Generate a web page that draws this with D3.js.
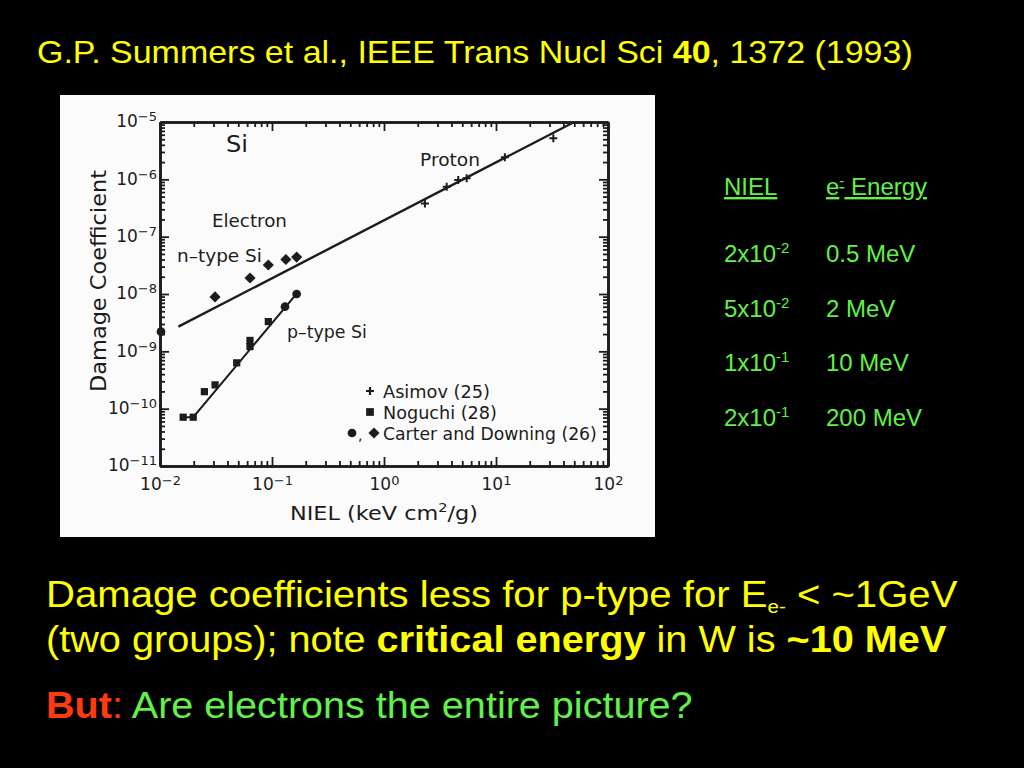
<!DOCTYPE html>
<html>
<head>
<meta charset="utf-8">
<script src="https://cdn.jsdelivr.net/npm/d3@7"></script>
<style>
  html, body { margin: 0; padding: 0; background: #000; }
  svg { display: block; }
</style>
</head>
<body>
<svg id="chart" width="1024" height="768"></svg>
<script>
// ---------------- DATA ----------------
// Electron, n-type Si (Carter and Downing, diamonds)
const nTypeNiel   = [0.031, 0.0637, 0.0927, 0.133, 0.166];
const nTypeDamage = [8.9e-9, 1.9e-8, 3.2e-8, 4.0e-8, 4.4e-8];
// Electron, p-type Si (Noguchi, squares)
const pTypeNiel   = [0.0161, 0.0198, 0.0249, 0.031, 0.0484, 0.0636, 0.0636, 0.0927];
const pTypeDamage = [7.1e-11, 7.1e-11, 1.98e-10, 2.6e-10, 6.3e-10, 1.21e-9, 1.55e-9, 3.3e-9];
// Electron, p-type Si (Carter and Downing, circles)
const pCircleNiel   = [0.0102, 0.1306, 0.166];
const pCircleDamage = [2.2e-9, 6.0e-9, 1.0e-8];
// Proton (Asimov, crosses)
const protonNiel   = [2.32, 3.63, 4.6, 5.47, 12.0, 32.5];
const protonDamage = [3.8e-7, 7.4e-7, 9.7e-7, 1.04e-6, 2.42e-6, 5.2e-6];
// Fit lines
const nLineNiel   = [0.0146, 50];
const nLineDamage = [2.7e-9, 1.0e-5];
const pLineNiel   = [0.0155, 0.0198, 0.172];
const pLineDamage = [7.1e-11, 7.1e-11, 1.1e-8];
// Axis ticks
const xTickValues = [1e-2, 1e-1, 1e0, 1e1, 1e2];
const xTickExps   = ["-2", "-1", "0", "1", "2"];
const yTickValues = [1e-11, 1e-10, 1e-9, 1e-8, 1e-7, 1e-6, 1e-5];
const yTickExps   = ["-11", "-10", "-9", "-8", "-7", "-6", "-5"];
const legendLabels = ["Asimov (25)", "Noguchi (28)", "Carter and Downing (26)"];
// Table on the right
const tableHeaders  = ["NIEL", "Energy"];
const tableNielBase = ["2x10", "5x10", "1x10", "2x10"];
const tableNielExp  = ["-2", "-2", "-1", "-1"];
const tableEnergy   = ["0.5 MeV", "2 MeV", "10 MeV", "200 MeV"];

// ---------------- DRAW ----------------
const svg = d3.select("#chart");
const YEL = "#ffff00", GRN = "#62f04a", RED = "#ff3a10", INK = "#1c1c1c";
const SLIDE_FONT = "'Liberation Sans', Arial, sans-serif";
const CHART_FONT = "'DejaVu Sans', 'Liberation Sans', sans-serif";

svg.append("rect").attr("width", 1024).attr("height", 768).attr("fill", "#000");

function fitText(g, x, y, target, rot) {
  const w = g.node().getBBox().width;
  g.attr("transform", `translate(${x},${y})${rot ? " rotate(" + rot + ")" : ""} scale(${target / w},1)`);
}

// Title
{
  const g = svg.append("g");
  const t = g.append("text").attr("x", 0).attr("y", 0)
    .attr("font-family", SLIDE_FONT).attr("font-size", 32).attr("fill", YEL);
  t.append("tspan").text("G.P. Summers et al., IEEE Trans Nucl Sci ");
  t.append("tspan").attr("font-weight", "bold").text("40");
  t.append("tspan").text(", 1372 (1993)");
  fitText(g, 37, 63, 876);
}

// White panel (scanned figure)
svg.append("rect").attr("x", 60).attr("y", 95).attr("width", 595).attr("height", 442).attr("fill", "#fbfbfb");

const x = d3.scaleLog().domain([1e-2, 1e2]).range([160, 608]);
const y = d3.scaleLog().domain([1e-11, 1e-5]).range([466, 122]);

function minorTicks(lo, hi) {
  const out = [];
  for (let e = lo; e < hi; e++) for (let m = 2; m <= 9; m++) out.push(m * Math.pow(10, e));
  return out;
}
const xMinor = minorTicks(-2, 2);
const yMinor = minorTicks(-11, -5);

const chart = svg.append("g").attr("font-family", CHART_FONT);

function styleAxis(g) {
  g.selectAll("path.domain").attr("stroke", INK).attr("stroke-width", 2.6);
  g.selectAll(".tick line").attr("stroke", INK).attr("stroke-width", 1.8);
}

// major axes
const axB = chart.append("g").attr("transform", `translate(0,${y.range()[0]})`)
  .call(d3.axisBottom(x).tickValues(xTickValues).tickSize(-9).tickSizeOuter(0).tickPadding(12).tickFormat(() => ""));
const axL = chart.append("g").attr("transform", `translate(${x.range()[0]},0)`)
  .call(d3.axisLeft(y).tickValues(yTickValues).tickSize(-9).tickSizeOuter(0).tickPadding(3).tickFormat(() => ""));
const axT = chart.append("g").attr("transform", `translate(0,${y.range()[1]})`)
  .call(d3.axisTop(x).tickValues(xTickValues).tickSize(-9).tickSizeOuter(0).tickFormat(() => ""));
const axR = chart.append("g").attr("transform", `translate(${x.range()[1]},0)`)
  .call(d3.axisRight(y).tickValues(yTickValues).tickSize(-9).tickSizeOuter(0).tickFormat(() => ""));
// minor axes
const mB = chart.append("g").attr("transform", `translate(0,${y.range()[0]})`)
  .call(d3.axisBottom(x).tickValues(xMinor).tickSize(-5).tickSizeOuter(0).tickFormat(() => ""));
const mL = chart.append("g").attr("transform", `translate(${x.range()[0]},0)`)
  .call(d3.axisLeft(y).tickValues(yMinor).tickSize(-5).tickSizeOuter(0).tickFormat(() => ""));
const mT = chart.append("g").attr("transform", `translate(0,${y.range()[1]})`)
  .call(d3.axisTop(x).tickValues(xMinor).tickSize(-5).tickSizeOuter(0).tickFormat(() => ""));
const mR = chart.append("g").attr("transform", `translate(${x.range()[1]},0)`)
  .call(d3.axisRight(y).tickValues(yMinor).tickSize(-5).tickSizeOuter(0).tickFormat(() => ""));
[axB, axL, axT, axR, mB, mL, mT, mR].forEach(styleAxis);

// tick labels with superscript exponents
axB.selectAll(".tick text").each(function (d, i) {
  const t = d3.select(this).attr("fill", INK).attr("font-size", 17).attr("font-family", CHART_FONT);
  t.text(null);
  t.append("tspan").text("10");
  t.append("tspan").attr("font-size", 13).attr("dy", -5).text(xTickExps[i].replace("-", "\u2212"));
});
axL.selectAll(".tick text").each(function (d, i) {
  const t = d3.select(this).attr("fill", INK).attr("font-size", 17).attr("font-family", CHART_FONT)
    .attr("dy", "0.28em");
  t.text(null);
  t.append("tspan").text("10");
  t.append("tspan").attr("font-size", 13).attr("dy", -6).text(yTickExps[i].replace("-", "\u2212"));
});

// axis titles
{
  const g = chart.append("g");
  g.append("text").attr("text-anchor", "middle").attr("font-size", 21).attr("fill", INK).text("Damage Coefficient");
  fitText(g, 106, 281, 222, -90);
}
{
  const g = chart.append("g");
  const t = g.append("text").attr("text-anchor", "middle").attr("font-size", 20).attr("fill", INK);
  t.append("tspan").text("NIEL  (keV cm");
  t.append("tspan").attr("font-size", 13).attr("dy", -8).text("2");
  t.append("tspan").attr("dy", 8).text("/g)");
  fitText(g, 384, 520, 188);
}

// fit lines
const line = d3.line().x(d => x(d[0])).y(d => y(d[1]));
chart.append("path").datum(d3.zip(nLineNiel, nLineDamage)).attr("d", line)
  .attr("fill", "none").attr("stroke", INK).attr("stroke-width", 2.4);
chart.append("path").datum(d3.zip(pLineNiel, pLineDamage)).attr("d", line)
  .attr("fill", "none").attr("stroke", INK).attr("stroke-width", 2.0);

// markers
const sym = (type, size) => d3.symbol().type(type).size(size)();
chart.selectAll(".ndia").data(d3.zip(nTypeNiel, nTypeDamage)).join("path")
  .attr("transform", d => `translate(${x(d[0])},${y(d[1])}) rotate(45)`)
  .attr("d", sym(d3.symbolSquare, 62)).attr("fill", INK);
chart.selectAll(".psq").data(d3.zip(pTypeNiel, pTypeDamage)).join("path")
  .attr("transform", d => `translate(${x(d[0])},${y(d[1])})`)
  .attr("d", sym(d3.symbolSquare, 52)).attr("fill", INK);
chart.selectAll(".pci").data(d3.zip(pCircleNiel, pCircleDamage)).join("path")
  .attr("transform", d => `translate(${x(d[0])},${y(d[1])})`)
  .attr("d", sym(d3.symbolCircle, 60)).attr("fill", INK);
chart.selectAll(".pro").data(d3.zip(protonNiel, protonDamage)).join("path")
  .attr("transform", d => `translate(${x(d[0])},${y(d[1])})`)
  .attr("d", "M-4,0H4M0,-4V4").attr("stroke", INK).attr("stroke-width", 2).attr("fill", "none");

// in-plot labels (fitted to the widths in the scan)
function label(txt, x0, y0, size, width) {
  const g = chart.append("g");
  g.append("text").attr("font-size", size).attr("fill", INK).text(txt);
  fitText(g, x0, y0, width);
}
label("Si", 226, 152, 23, 22);
label("Electron", 212, 227, 17, 75);
label("n\u2013type Si", 177, 262, 17, 85);
label("Proton", 420, 166, 17, 60);
label("p\u2013type Si", 287, 338, 17, 80);

// legend
const legY = [391, 412, 433];
chart.append("path").attr("transform", `translate(370,${legY[0]})`)
  .attr("d", "M-4,0H4M0,-4V4").attr("stroke", INK).attr("stroke-width", 2.2);
chart.append("path").attr("transform", `translate(370,${legY[1]})`)
  .attr("d", sym(d3.symbolSquare, 60)).attr("fill", INK);
chart.append("path").attr("transform", `translate(352,${legY[2]})`)
  .attr("d", sym(d3.symbolCircle, 60)).attr("fill", INK);
chart.append("text").attr("x", 358).attr("y", legY[2] + 7).attr("font-size", 14).attr("fill", INK).text(",");
chart.append("path").attr("transform", `translate(374,${legY[2]}) rotate(45)`)
  .attr("d", sym(d3.symbolSquare, 62)).attr("fill", INK);
const legW = [107, 114, 214];
legendLabels.forEach((lab, i) => label(lab, 383, legY[i] + 7, 18, legW[i]));

// ---------------- Right table ----------------
const tbl = svg.append("g").attr("font-family", SLIDE_FONT).attr("font-size", 24).attr("fill", GRN);
tbl.append("text").attr("x", 724).attr("y", 195).attr("text-decoration", "underline").text(tableHeaders[0]);
{
  const t = tbl.append("text").attr("x", 826).attr("y", 195).attr("text-decoration", "underline");
  t.append("tspan").text("e");
  t.append("tspan").attr("font-size", 15).attr("dy", -9).text("-");
  t.append("tspan").attr("dy", 9).text(" " + tableHeaders[1]);
}
const rowY = [262, 317, 371, 426];
tableNielBase.forEach((b, i) => {
  const t = tbl.append("text").attr("x", 724).attr("y", rowY[i]);
  t.append("tspan").text(b);
  t.append("tspan").attr("font-size", 15).attr("dy", -9).text(tableNielExp[i]);
  tbl.append("text").attr("x", 826).attr("y", rowY[i]).text(tableEnergy[i]);
});

// ---------------- Bottom text ----------------
{
  const g = svg.append("g");
  const t = g.append("text").attr("x", 0).attr("y", 0).attr("font-family", SLIDE_FONT)
    .attr("font-size", 37).attr("fill", YEL);
  t.append("tspan").text("Damage coefficients less for p-type for E");
  t.append("tspan").attr("font-size", 19).attr("dy", 6).text("e-");
  t.append("tspan").attr("dy", -6).text(" < ~1GeV");
  fitText(g, 46, 607, 912);
}
{
  const g = svg.append("g");
  const t = g.append("text").attr("x", 0).attr("y", 0).attr("font-family", SLIDE_FONT)
    .attr("font-size", 37).attr("fill", YEL);
  t.append("tspan").text("(two groups); note ");
  t.append("tspan").attr("font-weight", "bold").text("critical energy");
  t.append("tspan").text(" in W is ");
  t.append("tspan").attr("font-weight", "bold").text("~10 MeV");
  fitText(g, 46, 652, 901);
}
{
  const g = svg.append("g");
  const t = g.append("text").attr("x", 0).attr("y", 0).attr("font-family", SLIDE_FONT)
    .attr("font-size", 37);
  t.append("tspan").attr("font-weight", "bold").attr("fill", RED).text("But");
  t.append("tspan").attr("fill", RED).text(":");
  t.append("tspan").attr("fill", GRN).text(" Are electrons the entire picture?");
  fitText(g, 46, 718, 647);
}
</script>
</body>
</html>
